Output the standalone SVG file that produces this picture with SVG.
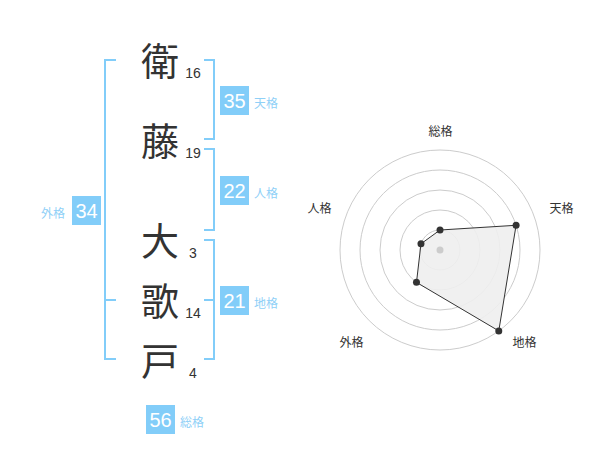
<svg xmlns="http://www.w3.org/2000/svg" width="600" height="470" viewBox="0 0 600 470">
<style>
.bg{fill:#ffffff}
.br{fill:none;stroke:#82cdf9;stroke-width:2}
.kanji{font-family:"Noto Sans CJK JP","Noto Sans CJK SC",sans-serif;font-size:38px;fill:#333333;text-anchor:middle}
.num{font-family:"Liberation Sans",Arial,sans-serif;font-size:14px;fill:#333333;text-anchor:middle}
.box{fill:#82cdf9}
.boxt{font-family:"Liberation Sans",Arial,sans-serif;font-size:20px;fill:#ffffff;text-anchor:middle}
.lab{font-family:"Noto Sans CJK JP","Noto Sans CJK SC",sans-serif;font-size:12px;fill:#8fd0f7}
.ring{fill:none;stroke:#cccccc;stroke-width:1}
.poly{fill:#eeeeee;fill-opacity:0.9;stroke:#333333;stroke-width:1}
.dot{fill:#333333}
.rlab{font-family:"Noto Sans CJK JP","Noto Sans CJK SC",sans-serif;font-size:12px;fill:#333333;text-anchor:middle}
</style>
<rect class="bg" x="0" y="0" width="600" height="470"/>
<g id="connectors">
<path class="br" d="M116,60 H105 V359 H116 M105,300 H116"/>
<path class="br" d="M204,60 H214 V139 H204"/>
<path class="br" d="M204,149 H214 V230 H204"/>
<path class="br" d="M204,240 H214 V359 H204 M214,300 H204"/>
</g>
<g id="name">
<g id="c1"><text class="kanji" x="160" y="75">衛</text><text class="num" x="193" y="77.5">16</text></g>
<g id="c2"><text class="kanji" x="160" y="155">藤</text><text class="num" x="193" y="157.5">19</text></g>
<g id="c3"><text class="kanji" x="160" y="255">大</text><text class="num" x="193" y="257.5">3</text></g>
<g id="c4"><text class="kanji" x="160" y="315">歌</text><text class="num" x="193" y="317.5">14</text></g>
<g id="c5"><text class="kanji" x="160" y="375">戸</text><text class="num" x="193" y="377.5">4</text></g>
</g>
<g id="tenkaku"><rect class="box" x="220" y="86" width="29" height="29"/><text class="boxt" x="234.5" y="107.7">35</text><text class="lab" x="254" y="108">天格</text></g>
<g id="jinkaku"><rect class="box" x="220" y="176" width="29" height="29"/><text class="boxt" x="234.5" y="197.7">22</text><text class="lab" x="254" y="198">人格</text></g>
<g id="chikaku"><rect class="box" x="220" y="286" width="29" height="29"/><text class="boxt" x="234.5" y="307.7">21</text><text class="lab" x="254" y="308">地格</text></g>
<g id="gaikaku"><rect class="box" x="72" y="196" width="29" height="29"/><text class="boxt" x="86.5" y="217.7">34</text><text class="lab" x="41" y="218">外格</text></g>
<g id="soukaku"><rect class="box" x="146" y="405" width="29" height="29"/><text class="boxt" x="160.5" y="426.7">56</text><text class="lab" x="180" y="427">総格</text></g>
<g id="radar">
<circle class="ring" cx="440" cy="250" r="20"/>
<circle class="ring" cx="440" cy="250" r="40"/>
<circle class="ring" cx="440" cy="250" r="60"/>
<circle class="ring" cx="440" cy="250" r="80"/>
<circle class="ring" cx="440" cy="250" r="100"/>
<polygon class="poly" points="440,230 516.09,225.28 498.78,330.9 416.49,282.36 420.98,243.82"/>
<circle cx="440" cy="250" r="3.5" fill="#cccccc"/>
<circle class="dot" cx="440" cy="230" r="3.5"/>
<circle class="dot" cx="516.09" cy="225.28" r="3.5"/>
<circle class="dot" cx="498.78" cy="330.9" r="3.5"/>
<circle class="dot" cx="416.49" cy="282.36" r="3.5"/>
<circle class="dot" cx="420.98" cy="243.82" r="3.5"/>
<text class="rlab" x="440.5" y="136">総格</text>
<text class="rlab" x="561.5" y="213">天格</text>
<text class="rlab" x="524.5" y="347">地格</text>
<text class="rlab" x="351.5" y="347">外格</text>
<text class="rlab" x="319.5" y="213">人格</text>
</g>
</svg>
